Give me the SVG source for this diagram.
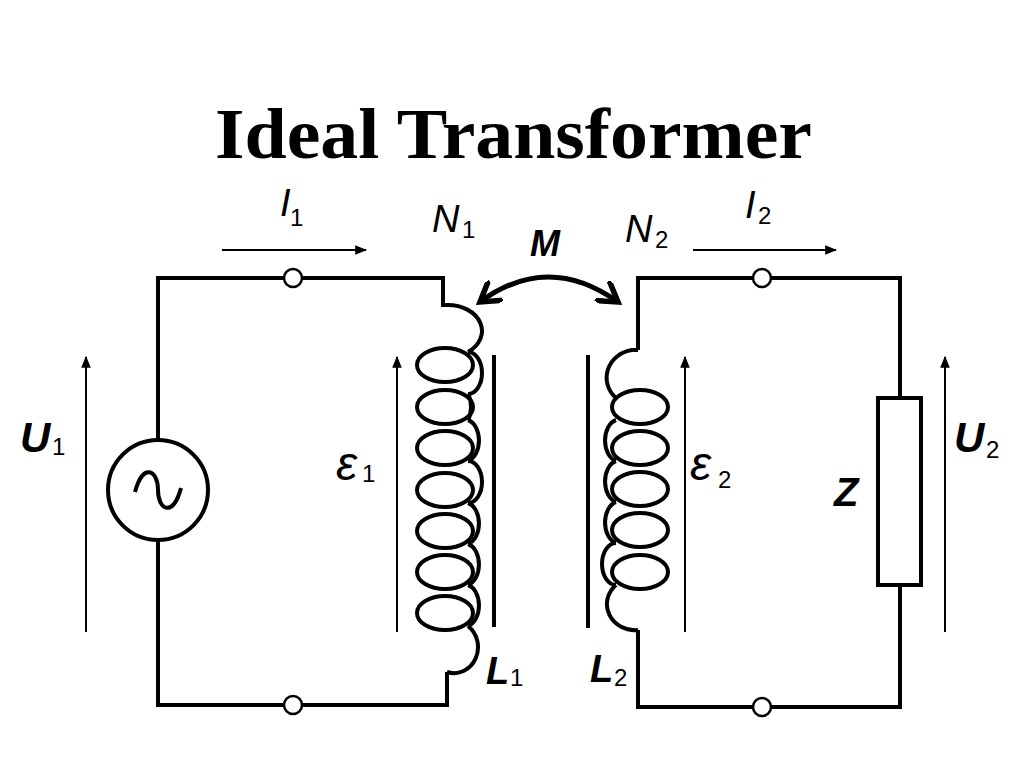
<svg xmlns="http://www.w3.org/2000/svg" width="1024" height="768" viewBox="0 0 1024 768">
<defs>
<marker id="ah" viewBox="0 0 10 10" refX="9" refY="5" markerWidth="6" markerHeight="6" orient="auto"><path d="M0,1 L10,5 L0,9 Z" fill="#000"/></marker>
<marker id="vh" viewBox="0 0 10 10" refX="8" refY="5" markerWidth="5" markerHeight="5" orient="auto-start-reverse"><path d="M0,0 L8,5 L0,10" fill="none" stroke="#000" stroke-width="2.2"/></marker>
</defs>
<style>
.w{fill:none;stroke:#000;stroke-width:4}
.a{fill:none;stroke:#000;stroke-width:2;marker-end:url(#ah)}
.t{font-family:"Liberation Sans",Arial,sans-serif;font-style:italic;fill:#000}
.s{font-family:"Liberation Sans",Arial,sans-serif;font-size:24px;fill:#000}
</style>
<rect width="1024" height="768" fill="#fff"/>
<text x="215" y="158" textLength="597" lengthAdjust="spacingAndGlyphs" font-family="Liberation Serif,serif" font-weight="bold" font-size="72">Ideal Transformer</text>
<g id="wires">
<path class="w" d="M158,440 V278 H443 V307 M158,540 V705 H447 V672"/>
<path class="w" d="M638,350 V278 H900 V398 M900,585 V707 H638 V630"/>
</g>
<g id="coil1">
<path class="w" d="M443,305 H447 A34,26 0 0 1 468,352"/>
<ellipse class="w" cx="445" cy="365" rx="28" ry="17"/>
<ellipse class="w" cx="445" cy="407" rx="28" ry="17"/>
<ellipse class="w" cx="445" cy="448" rx="28" ry="17"/>
<ellipse class="w" cx="445" cy="490" rx="28" ry="17"/>
<ellipse class="w" cx="445" cy="531" rx="28" ry="17"/>
<ellipse class="w" cx="445" cy="572" rx="28" ry="17"/>
<ellipse class="w" cx="445" cy="613" rx="28" ry="17"/>
<path class="w" d="M468,352 A14,21 0 0 1 468,394 M468,394 A14,21 0 0 1 468,420 M468,420 A14,21 0 0 1 468,461 M468,461 A14,21 0 0 1 468,503 M468,503 A14,21 0 0 1 468,544 M468,544 A14,21 0 0 1 468,585 M468,585 A14,21 0 0 1 468,626 M468,626 A24,26 0 0 1 447,672"/>
<line class="w" x1="494" y1="355" x2="494" y2="627"/>
</g>
<g id="coil2">
<path class="w" d="M638,350 H632 A30,28 0 0 0 616,398"/>
<ellipse class="w" cx="640" cy="407" rx="28" ry="17"/>
<ellipse class="w" cx="640" cy="448" rx="28" ry="17"/>
<ellipse class="w" cx="640" cy="489" rx="28" ry="17"/>
<ellipse class="w" cx="640" cy="530" rx="28" ry="17"/>
<ellipse class="w" cx="640" cy="572" rx="28" ry="17"/>
<path class="w" d="M616,420 A14,21 0 0 0 616,461 M616,461 A14,21 0 0 0 616,502 M616,502 A14,21 0 0 0 616,543 M616,543 A14,21 0 0 0 616,585 M616,585 A28,26 0 0 0 638,630"/>
<line class="w" x1="588" y1="355" x2="588" y2="628"/>
</g>
<g id="source"><circle class="w" cx="158" cy="490" r="50"/><path class="w" d="M135,492 C143,462 158,470 158,490 C158,510 173,518 181,488" stroke-width="3"/></g>
<g id="load"><rect class="w" x="878" y="398" width="43" height="187" fill="#fff"/></g>
<g id="terminals" fill="#fff" stroke="#000" stroke-width="2.5">
<circle cx="293" cy="278" r="9"/><circle cx="293" cy="705" r="9"/>
<circle cx="762" cy="278" r="9"/><circle cx="762" cy="707" r="9"/>
</g>
<g id="connectors">
<line class="a" x1="86" y1="632" x2="86" y2="357"/>
<line class="a" x1="397" y1="632" x2="397" y2="357"/>
<line class="a" x1="685" y1="632" x2="685" y2="357"/>
<line class="a" x1="945" y1="632" x2="945" y2="357"/>
<line class="a" x1="222" y1="250" x2="366" y2="250"/>
<line class="a" x1="693" y1="250" x2="836" y2="250"/>
<path d="M480,302 Q548,252 618,302" fill="none" stroke="#000" stroke-width="5" marker-start="url(#vh)" marker-end="url(#vh)"/>
</g>
<g id="labels">
<text class="t" x="20" y="452" font-size="42" font-weight="bold">U</text><text class="s" x="52" y="455">1</text>
<text class="t" x="336" y="480" font-size="48" font-style="normal">ε</text><text class="s" x="362" y="482">1</text>
<text class="t" x="690" y="480" font-size="48" font-style="normal">ε</text><text class="s" x="718" y="488">2</text>
<text class="t" x="834" y="506" font-size="40" font-weight="bold">Z</text>
<text class="t" x="954" y="452" font-size="42" font-weight="bold">U</text><text class="s" x="986" y="458">2</text>
<text class="t" x="432" y="232" font-size="38">N</text><text class="s" x="462" y="238">1</text>
<text class="t" x="530" y="256" font-size="36" font-weight="bold">M</text>
<text class="t" x="625" y="242" font-size="38">N</text><text class="s" x="655" y="248">2</text>
<text class="t" x="280" y="216" font-size="38">I</text><text class="s" x="290" y="226">1</text>
<text class="t" x="745" y="218" font-size="38">I</text><text class="s" x="758" y="224">2</text>
<text class="t" x="486" y="684" font-size="38" font-weight="bold">L</text><text class="s" x="510" y="686">1</text>
<text class="t" x="590" y="682" font-size="38" font-weight="bold">L</text><text class="s" x="614" y="686">2</text>
</g>
</svg>
